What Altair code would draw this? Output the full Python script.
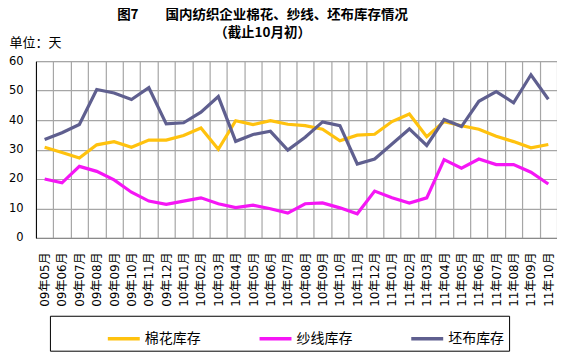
import altair as alt
import pandas as pd

months = ["09年05月", "09年06月", "09年07月", "09年08月", "09年09月", "09年10月", "09年11月", "09年12月",
          "10年01月", "10年02月", "10年03月", "10年04月", "10年05月", "10年06月", "10年07月", "10年08月",
          "10年09月", "10年10月", "10年11月", "10年12月", "11年01月", "11年02月", "11年03月", "11年04月",
          "11年05月", "11年06月", "11年07月", "11年08月", "11年09月", "11年10月"]
cotton = [30.8, 29.0, 27.1, 31.6, 32.7, 30.8, 33.2, 33.2, 34.8, 37.3, 30.1, 39.8, 38.5, 39.8, 38.6,
          38.1, 36.9, 33.0, 34.9, 35.2, 39.5, 42.1, 34.4, 39.5, 38.1, 36.9, 34.5, 32.7, 30.6, 31.7]
yarn = [20.0, 18.7, 24.3, 22.6, 19.7, 15.5, 12.5, 11.4, 12.5, 13.6, 11.6, 10.3, 11.1, 9.9, 8.4,
        11.6, 11.9, 10.2, 8.2, 15.9, 13.6, 11.8, 13.6, 26.6, 23.7, 26.8, 24.9, 24.9, 22.3, 18.3]
fabric = [33.4, 35.7, 38.5, 50.4, 49.2, 47.0, 51.0, 38.7, 39.1, 42.7, 48.0, 32.8, 35.1, 36.2, 29.8,
          34.2, 39.4, 38.1, 25.1, 26.8, 31.9, 37.0, 31.4, 40.2, 37.8, 46.4, 49.7, 45.9, 55.4, 47.1]
series_names = ["棉花库存", "纱线库存", "坯布库存"]
series_colors = ["#FFC20E", "#F516F5", "#5F5F8F"]
y_ticks = [0, 10, 20, 30, 40, 50, 60]

rows = []
for name, vals in zip(series_names, [cotton, yarn, fabric]):
    for m, v in zip(months, vals):
        rows.append({"month": m, "series": name, "value": v})
df = pd.DataFrame(rows)

num_font = "DejaVu Sans, Noto Sans CJK SC"
cjk_font = "Noto Sans CJK SC"

chart = alt.Chart(df).mark_line(strokeWidth=3.2).encode(
    x=alt.X("month:O", sort=months,
            scale=alt.Scale(type="band", paddingInner=0, paddingOuter=0),
            axis=alt.Axis(title=None, labelAngle=-90, labelFontSize=12, labelFont=num_font,
                          labelColor="#000", ticks=False, labelPadding=14,
                          grid=True, gridColor="#A6A6A6", gridWidth=1.2, tickBand="extent",
                          domainColor="#888", labelOverlap=False)),
    y=alt.Y("value:Q", scale=alt.Scale(domain=[0, 60], nice=False),
            axis=alt.Axis(values=y_ticks, title="单位：天", titleAngle=0, titleAlign="left",
                          titleBaseline="middle", titleX=-27, titleY=-19, titleFontSize=13,
                          titleFontWeight="normal", titleFont=cjk_font, titleColor="#000",
                          labelFontSize=11.5, labelFont=num_font, labelColor="#000",
                          ticks=False, labelPadding=13, grid=True, gridColor="#A6A6A6",
                          gridWidth=1.2, domainColor="#000")),
    color=alt.Color("series:N", sort=series_names,
                    scale=alt.Scale(domain=series_names, range=series_colors),
                    legend=alt.Legend(title=None, orient="none", direction="horizontal",
                                      legendX=14, legendY=255, symbolType="stroke",
                                      symbolSize=1024, symbolStrokeWidth=3.5,
                                      symbolOffset=51, labelOffset=3, columnPadding=6,
                                      labelFontSize=14, labelFont=cjk_font, labelColor="#000",
                                      padding=5, strokeColor="#000",
                                      labelExpr="datum.label == '坯布库存' ? datum.label + '           ' : datum.label")),
).properties(
    width=522, height=177,
    title=alt.TitleParams(text=["图7\u3000\u3000国内纺织企业棉花、纱线、坯布库存情况", "（截止10月初）"],
                          fontSize=13.5, fontWeight="bold", font=cjk_font,
                          anchor="middle", dx=-34, offset=-3, lineHeight=18, color="#000"),
    autosize=alt.AutoSizeParams(type="none"),
    padding={"left": 28, "top": 53, "right": 0, "bottom": 115},
).configure_view(stroke="#000", strokeWidth=1.2).configure(background="#ffffff")

chart.save("out.html", embed_options={"renderer": "svg", "actions": False})
